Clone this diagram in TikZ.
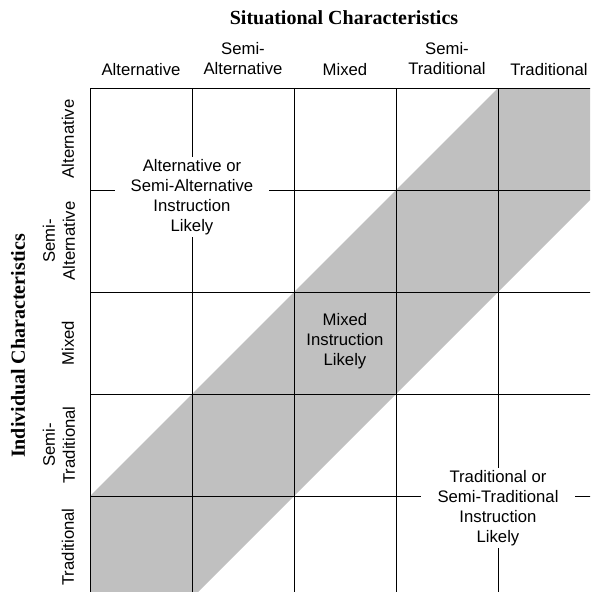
\documentclass[tikz,border=0pt]{standalone}
\usepackage{fontspec}
\setmainfont{Liberation Sans}
\newfontfamily\titlefont{Liberation Serif}
\definecolor{bandgray}{RGB}{192,192,192}
\tikzset{
  lbl/.style={font=\fontsize{16.7}{20}\selectfont, align=center, inner sep=0pt},
  ttl/.style={font=\titlefont\bfseries\fontsize{20}{24}\selectfont, inner sep=0pt},
  gridline/.style={line width=0.9pt, black},
  band/.style={fill=bandgray, draw=none},
  zone/.style={lbl, fill=white, minimum width=154pt, minimum height=80pt}
}
\begin{document}
\begin{tikzpicture}[x=1pt,y=-1pt]
\useasboundingbox (0,0) rectangle (590,592);
\begin{scope}
\clip (0,0) rectangle (590,592);
% diagonal band
\fill[band] (90,496) -- (498,88) -- (600,88) -- (600,190) -- (192,598) -- (90,598) -- cycle;
% grid
\foreach \x in {90,192,294,396,498} \draw[gridline] (\x,88) -- (\x,600);
\foreach \y in {88,190,292,394,496} \draw[gridline] (90,\y) -- (600,\y);
\end{scope}
% titles
\node[ttl] (sit) at (344,18) {Situational Characteristics};
\node[ttl, rotate=90] (ind) at (18,346) {Individual Characteristics};
% column headers
\node[lbl] (c1) at (141,70) {Alternative};
\node[lbl] (c2) at (243,59) {Semi-\\Alternative};
\node[lbl] (c3) at (345,70) {Mixed};
\node[lbl] (c4) at (447,59) {Semi-\\Traditional};
\node[lbl] (c5) at (549,70) {Traditional};
% row headers
\node[lbl, rotate=90] (r1) at (68,139) {Alternative};
\node[lbl, rotate=90] (r2) at (59,241) {Semi-\\Alternative};
\node[lbl, rotate=90] (r3) at (68,343) {Mixed};
\node[lbl, rotate=90] (r4) at (59,445) {Semi-\\Traditional};
\node[lbl, rotate=90] (r5) at (68,547) {Traditional};
% zone labels
\node[zone] (za) at (192,197) {Alternative or\\Semi-Alternative\\Instruction\\Likely};
\node[lbl] (zm) at (345,341) {Mixed\\Instruction\\Likely};
\node[zone] (zt) at (498,508) {Traditional or\\Semi-Traditional\\Instruction\\Likely};
\end{tikzpicture}
\end{document}
